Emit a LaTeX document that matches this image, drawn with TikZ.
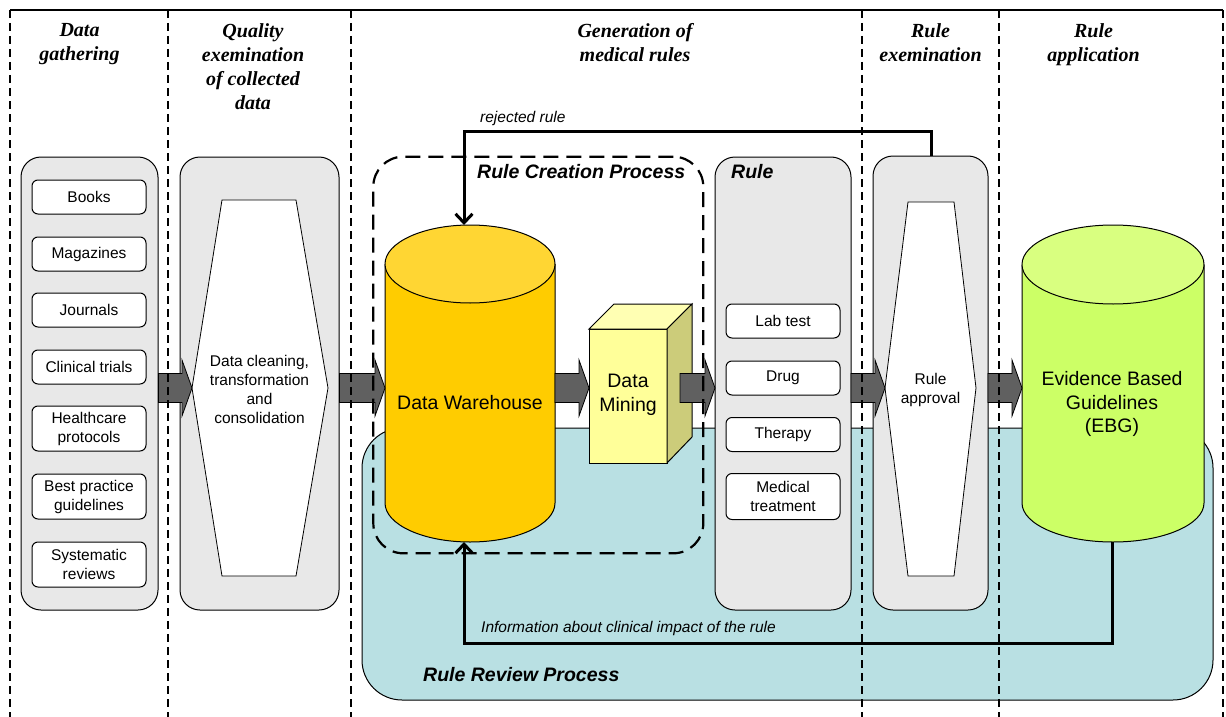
\documentclass[tikz,border=0pt]{standalone}
\usepackage{fontspec}
\setmainfont{Liberation Sans}
\newfontfamily\hdrfamily{Liberation Serif}
\usetikzlibrary{arrows.meta,calc}

\definecolor{boxgray}{HTML}{E8E8E8}
\definecolor{arrgray}{HTML}{606060}
\definecolor{reviewteal}{HTML}{B9E0E3}
\definecolor{dwbody}{HTML}{FFCC00}
\definecolor{dwcap}{HTML}{FFD633}
\definecolor{dmfront}{HTML}{FFFF99}
\definecolor{dmtop}{HTML}{FFFFB3}
\definecolor{dmside}{HTML}{CCCC7A}
\definecolor{ebgbody}{HTML}{CCFF66}
\definecolor{ebgcap}{HTML}{D9FF80}

\newcommand\smtxt{\fontsize{15.5}{19}\selectfont}
\newcommand\lgtxt{\fontsize{19.5}{23.5}\selectfont}
\newcommand\hdrtxt{\hdrfamily\bfseries\itshape\fontsize{20}{24}\selectfont}

\tikzset{
  colbox/.style={draw=black, line width=1pt, fill=boxgray, rounded corners=20pt, inner sep=0pt},
  itembox/.style={draw=black, line width=1pt, fill=white, rounded corners=6pt, inner sep=0pt,
     minimum width=114pt, align=center, font=\smtxt},
  hexshape/.style={draw=black, line width=0.8pt, fill=white},
  plain/.style={inner sep=0pt, align=center},
  header/.style={inner sep=0pt, align=center, anchor=north, font=\hdrtxt},
  coldash/.style={line width=1.2pt, dash pattern=on 8pt off 5pt},
  blockarr/.style={fill=arrgray, draw=black, line width=0.8pt},
  connarrow/.style={line width=3pt, -{Straight Barb[length=9pt,width=17pt,line width=3pt]}},
  shapeline/.style={draw=black, line width=1pt},
}

\newcommand\blockarrow[2]{%
  \filldraw[blockarr] let \p1=(#1), \p2=(#2) in
    (\x1,\y2+14.5pt) -- (\x2-10pt,\y2+14.5pt) -- (\x2-10pt,\y2+28pt) -- (\p2)
    -- (\x2-10pt,\y2-28pt) -- (\x2-10pt,\y2-14.5pt) -- (\x1,\y2-14.5pt) -- cycle;}

\begin{document}
\begin{tikzpicture}[x=1pt,y=-1pt]
\useasboundingbox[fill=white] (0,0) rectangle (1226,717);

% review region
\node[draw=black, line width=1pt, fill=reviewteal, rounded corners=40pt, inner sep=0pt,
      minimum width=851pt, minimum height=272pt] (review) at (787.5,564) {};
\node[plain, anchor=west, font=\lgtxt\bfseries\itshape] (reviewlbl) at (423,675) {Rule Review Process};

% column 1
\node[colbox, minimum width=137pt, minimum height=453pt] (col1) at (89.5,383.5) {};
\node[itembox, minimum height=34pt] (books) at (89,197) {Books};
\node[itembox, minimum height=34pt] (mags) at (89,254) {Magazines};
\node[itembox, minimum height=34pt] (journ) at (89,310) {Journals};
\node[itembox, minimum height=34pt] (trials) at (89,367) {Clinical trials};
\node[itembox, minimum height=45pt] (proto) at (89,428.5) {Healthcare\\protocols};
\node[itembox, minimum height=45pt] (best) at (89,496.5) {Best practice\\guidelines};
\node[itembox, minimum height=45pt] (sysrev) at (89,564.5) {Systematic\\reviews};

% column 2
\node[colbox, minimum width=159pt, minimum height=453pt] (col2) at (259.5,383.5) {};
\draw[hexshape] (222,200) -- (296,200) -- (328,388) -- (296,576) -- (222,576) -- (192,388) -- cycle;
\coordinate (hex1W) at (192,388);
\node[plain, font=\smtxt] (clean) at (259.5,389) {Data cleaning,\\transformation\\and\\consolidation};

% Data warehouse cylinder
\fill[dwbody] (385,264) -- (385,503) arc[start angle=180,end angle=360,x radius=85pt,y radius=39pt] -- (555,264) -- cycle;
\draw[shapeline] (385,264) -- (385,503) arc[start angle=180,end angle=360,x radius=85pt,y radius=39pt] -- (555,264);
\filldraw[shapeline, fill=dwcap] (470,264) ellipse[x radius=85pt, y radius=39pt];
\node[plain, font=\lgtxt] (dw) at (470,403) {Data Warehouse};
\coordinate (dwW) at (385,388);
\coordinate (dwE) at (555,388);
\coordinate (dwtop) at (464,225);
\coordinate (dwbot) at (464,542);

% Data mining cuboid
\filldraw[shapeline, fill=dmfront] (589,329) rectangle (667,463);
\filldraw[shapeline, fill=dmtop] (589,329) -- (614,304) -- (692,304) -- (667,329) -- cycle;
\filldraw[shapeline, fill=dmside] (667,329) -- (692,304) -- (692,437) -- (667,463) -- cycle;
\node[plain, font=\lgtxt] (dm) at (628,395) {Data\\Mining};
\coordinate (dmW) at (589,388);
\coordinate (dmE) at (680,388);

% Rule column
\node[colbox, minimum width=136pt, minimum height=453pt] (rulebox) at (783,383.5) {};
\node[plain, anchor=west, font=\lgtxt\bfseries\itshape] (rulelbl) at (731,172) {Rule};
\node[itembox, minimum height=34pt] (lab) at (783,321) {Lab test};
\node[itembox, minimum height=34pt] (drug) at (783,378) {Drug};
\node[itembox, minimum height=34pt] (ther) at (783,434.5) {Therapy};
\node[itembox, minimum height=46pt] (medt) at (783,496.5) {Medical\\treatment};
\coordinate (ruleW) at (715,388);
\coordinate (ruleE) at (851,388);

% Rule examination column
\node[colbox, minimum width=115pt, minimum height=454pt] (exam) at (930.5,383) {};
\draw[hexshape] (908,202) -- (954,202) -- (976,388) -- (954,576) -- (908,576) -- (885,388) -- cycle;
\node[plain, font=\smtxt] (approve) at (930.5,390) {Rule\\approval};
\coordinate (examW) at (885,388);
\coordinate (examE) at (988,388);
\coordinate (examtop) at (931,156);

% EBG cylinder
\fill[ebgbody] (1022,264.5) -- (1022,503) arc[start angle=180,end angle=360,x radius=91pt,y radius=39pt] -- (1204,264.5) -- cycle;
\draw[shapeline] (1022,264.5) -- (1022,503) arc[start angle=180,end angle=360,x radius=91pt,y radius=39pt] -- (1204,264.5);
\filldraw[shapeline, fill=ebgcap] (1113,264.5) ellipse[x radius=91pt, y radius=39.5pt];
\node[plain, font=\lgtxt] (ebg) at (1112,404) {Evidence Based\\Guidelines\\(EBG)};
\coordinate (ebgW) at (1022,388);
\coordinate (ebgbot) at (1112.5,542);

% block arrows
\blockarrow{col1.east}{hex1W}
\blockarrow{col2.east}{dwW}
\blockarrow{dwE}{dmW}
\blockarrow{dmE}{ruleW}
\blockarrow{ruleE}{examW}
\blockarrow{examE}{ebgW}

% Rule creation process
\node[draw=black, line width=2.2pt, dash pattern=on 15pt off 8pt, rounded corners=30pt, inner sep=0pt,
      minimum width=330pt, minimum height=396.6pt] (rcp) at (538.3,355) {};
\node[plain, anchor=west, font=\lgtxt\bfseries\itshape] (rcplbl) at (477,172) {Rule Creation Process};

% column separators and frame
\draw[line width=1.8pt] (10,10) -- (1223,10);
\foreach \xx in {10,168,351,862,999,1223} {\draw[coldash] (\xx,10) -- (\xx,717);}

% headers
\node[header] (h1) at (79.5,23) {Data\\gathering};
\node[header] (h2) at (253,23) {Quality\\exemination\\of collected\\data};
\node[header] (h3) at (635,23) {Generation of\\medical rules};
\node[header] (h4) at (930.5,23) {Rule\\exemination};
\node[header] (h5) at (1093.5,23) {Rule\\application};

% connectors
\draw[connarrow] (examtop) -- (931,131) -| (dwtop);
\node[plain, anchor=west, font=\smtxt\itshape] (rejlbl) at (480,118) {rejected rule};
\draw[connarrow] (ebgbot) -- (1112.5,643) -| (dwbot);
\node[plain, anchor=west, font=\smtxt\itshape] (infolbl) at (481,628) {Information about clinical impact of the rule};
\end{tikzpicture}
\end{document}
